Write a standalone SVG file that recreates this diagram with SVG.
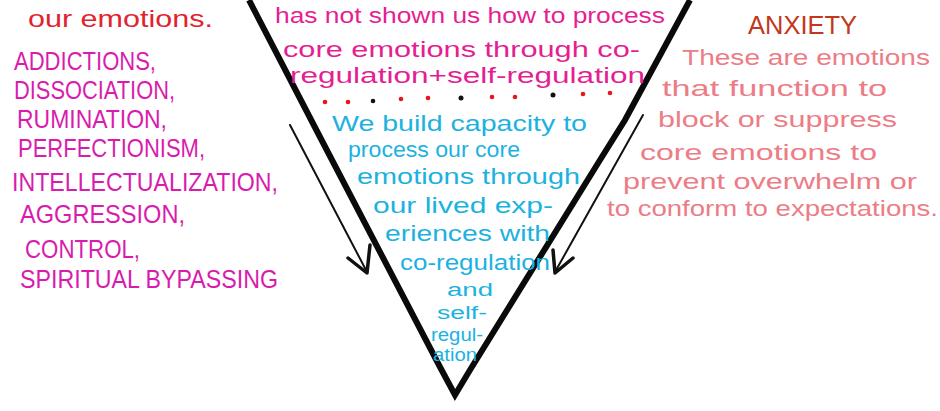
<svg xmlns="http://www.w3.org/2000/svg" width="940" height="411" viewBox="0 0 940 411">
<defs>
<style>
text{font-family:"Liberation Sans","DejaVu Sans",sans-serif;}
.red{fill:#e2222e;font-size:24px;}
.mag{fill:#d81cae;font-size:26px;}
.pink{fill:#e41f93;font-size:22px;}
.cyan{fill:#1cb2e0;font-size:22px;}
.cyans{fill:#1cb2e0;font-size:18px;}
.salmon{fill:#ec7c86;font-size:22px;}
.anx{fill:#c2381c;font-size:26px;}
.arrow{stroke:#111;stroke-width:2;fill:none;stroke-linecap:round;}
.head{stroke:#111;stroke-width:3.5;fill:none;stroke-linecap:round;stroke-linejoin:round;}
.dr{fill:#e8161c;}
.db{fill:#111;}
</style>
</defs>
<rect width="940" height="411" fill="#ffffff"/>

<g id="triangle">
<polyline points="249,0 320,137 440,367 455,395 470,370 600,160 625,120 690,0" fill="none" stroke="#0a0a0a" stroke-width="6" stroke-linejoin="miter"/>
</g>

<g id="connectors">
<path class="arrow" d="M290,125 L367,272"/>
<path class="head" d="M348,258 L367,273 L370,245"/>
<path class="arrow" d="M643,115 L555,272"/>
<path class="head" d="M553,250 L555,273 L573,258"/>
</g>

<g id="left-top">
<text class="red" x="28" y="27" textLength="185" lengthAdjust="spacingAndGlyphs">our emotions.</text>
</g>

<g id="defenses">
<text class="mag" x="14" y="70" textLength="142" lengthAdjust="spacingAndGlyphs">ADDICTIONS,</text>
<text class="mag" x="14" y="99" textLength="161" lengthAdjust="spacingAndGlyphs">DISSOCIATION,</text>
<text class="mag" x="17" y="128" textLength="150" lengthAdjust="spacingAndGlyphs">RUMINATION,</text>
<text class="mag" x="18" y="157" textLength="187" lengthAdjust="spacingAndGlyphs">PERFECTIONISM,</text>
<text class="mag" x="12" y="191" textLength="266" lengthAdjust="spacingAndGlyphs">INTELLECTUALIZATION,</text>
<text class="mag" x="20" y="223" textLength="165" lengthAdjust="spacingAndGlyphs">AGGRESSION,</text>
<text class="mag" x="25" y="258" textLength="115" lengthAdjust="spacingAndGlyphs">CONTROL,</text>
<text class="mag" x="20" y="288" textLength="258" lengthAdjust="spacingAndGlyphs">SPIRITUAL BYPASSING</text>
</g>

<g id="top-triangle-text">
<text class="pink" x="275" y="23" textLength="390" lengthAdjust="spacingAndGlyphs">has not shown us how to process</text>
<text class="pink" x="283" y="57" textLength="357" lengthAdjust="spacingAndGlyphs">core emotions through co-</text>
<text class="pink" x="290" y="83" textLength="355" lengthAdjust="spacingAndGlyphs">regulation+self-regulation</text>
</g>

<g id="divider">
<circle class="dr" cx="325" cy="102" r="2.3"/>
<circle class="dr" cx="348" cy="102" r="2.3"/>
<circle class="db" cx="373" cy="101" r="2.3"/>
<circle class="dr" cx="401" cy="99" r="2.3"/>
<circle class="dr" cx="428" cy="98" r="2.3"/>
<circle class="db" cx="461" cy="98" r="2.5"/>
<circle class="dr" cx="492" cy="97" r="2.3"/>
<circle class="dr" cx="515" cy="97" r="2.3"/>
<circle class="db" cx="553" cy="95" r="2.5"/>
<circle class="dr" cx="583" cy="94" r="2.3"/>
<circle class="dr" cx="610" cy="93" r="2.3"/>
</g>

<g id="capacity">
<text class="cyan" x="332" y="131" textLength="255" lengthAdjust="spacingAndGlyphs">We build capacity to</text>
<text class="cyan" x="348" y="157" textLength="172" lengthAdjust="spacingAndGlyphs">process our core</text>
<text class="cyan" x="357" y="184" textLength="223" lengthAdjust="spacingAndGlyphs">emotions through</text>
<text class="cyan" x="373" y="213" textLength="180" lengthAdjust="spacingAndGlyphs">our lived exp-</text>
<text class="cyan" x="385" y="241" textLength="165" lengthAdjust="spacingAndGlyphs">eriences with</text>
<text class="cyan" x="400" y="270" textLength="150" lengthAdjust="spacingAndGlyphs">co-regulation</text>
<text class="cyans" x="447" y="296" textLength="46" lengthAdjust="spacingAndGlyphs">and</text>
<text class="cyans" x="437" y="319" textLength="50" lengthAdjust="spacingAndGlyphs">self-</text>
<text class="cyans" x="431" y="341" textLength="52" lengthAdjust="spacingAndGlyphs">regul-</text>
<text class="cyans" x="433" y="361" textLength="44" lengthAdjust="spacingAndGlyphs">ation</text>
</g>

<g id="anxiety">
<text class="anx" x="748" y="34" textLength="109" lengthAdjust="spacingAndGlyphs">ANXIETY</text>
<text class="salmon" x="682" y="65" textLength="248" lengthAdjust="spacingAndGlyphs">These are emotions</text>
<text class="salmon" x="662" y="96" textLength="225" lengthAdjust="spacingAndGlyphs">that function to</text>
<text class="salmon" x="658" y="127" textLength="239" lengthAdjust="spacingAndGlyphs">block or suppress</text>
<text class="salmon" x="640" y="160" textLength="237" lengthAdjust="spacingAndGlyphs">core emotions to</text>
<text class="salmon" x="623" y="189" textLength="294" lengthAdjust="spacingAndGlyphs">prevent overwhelm or</text>
<text class="salmon" x="607" y="216" textLength="331" lengthAdjust="spacingAndGlyphs">to conform to expectations.</text>
</g>
</svg>
